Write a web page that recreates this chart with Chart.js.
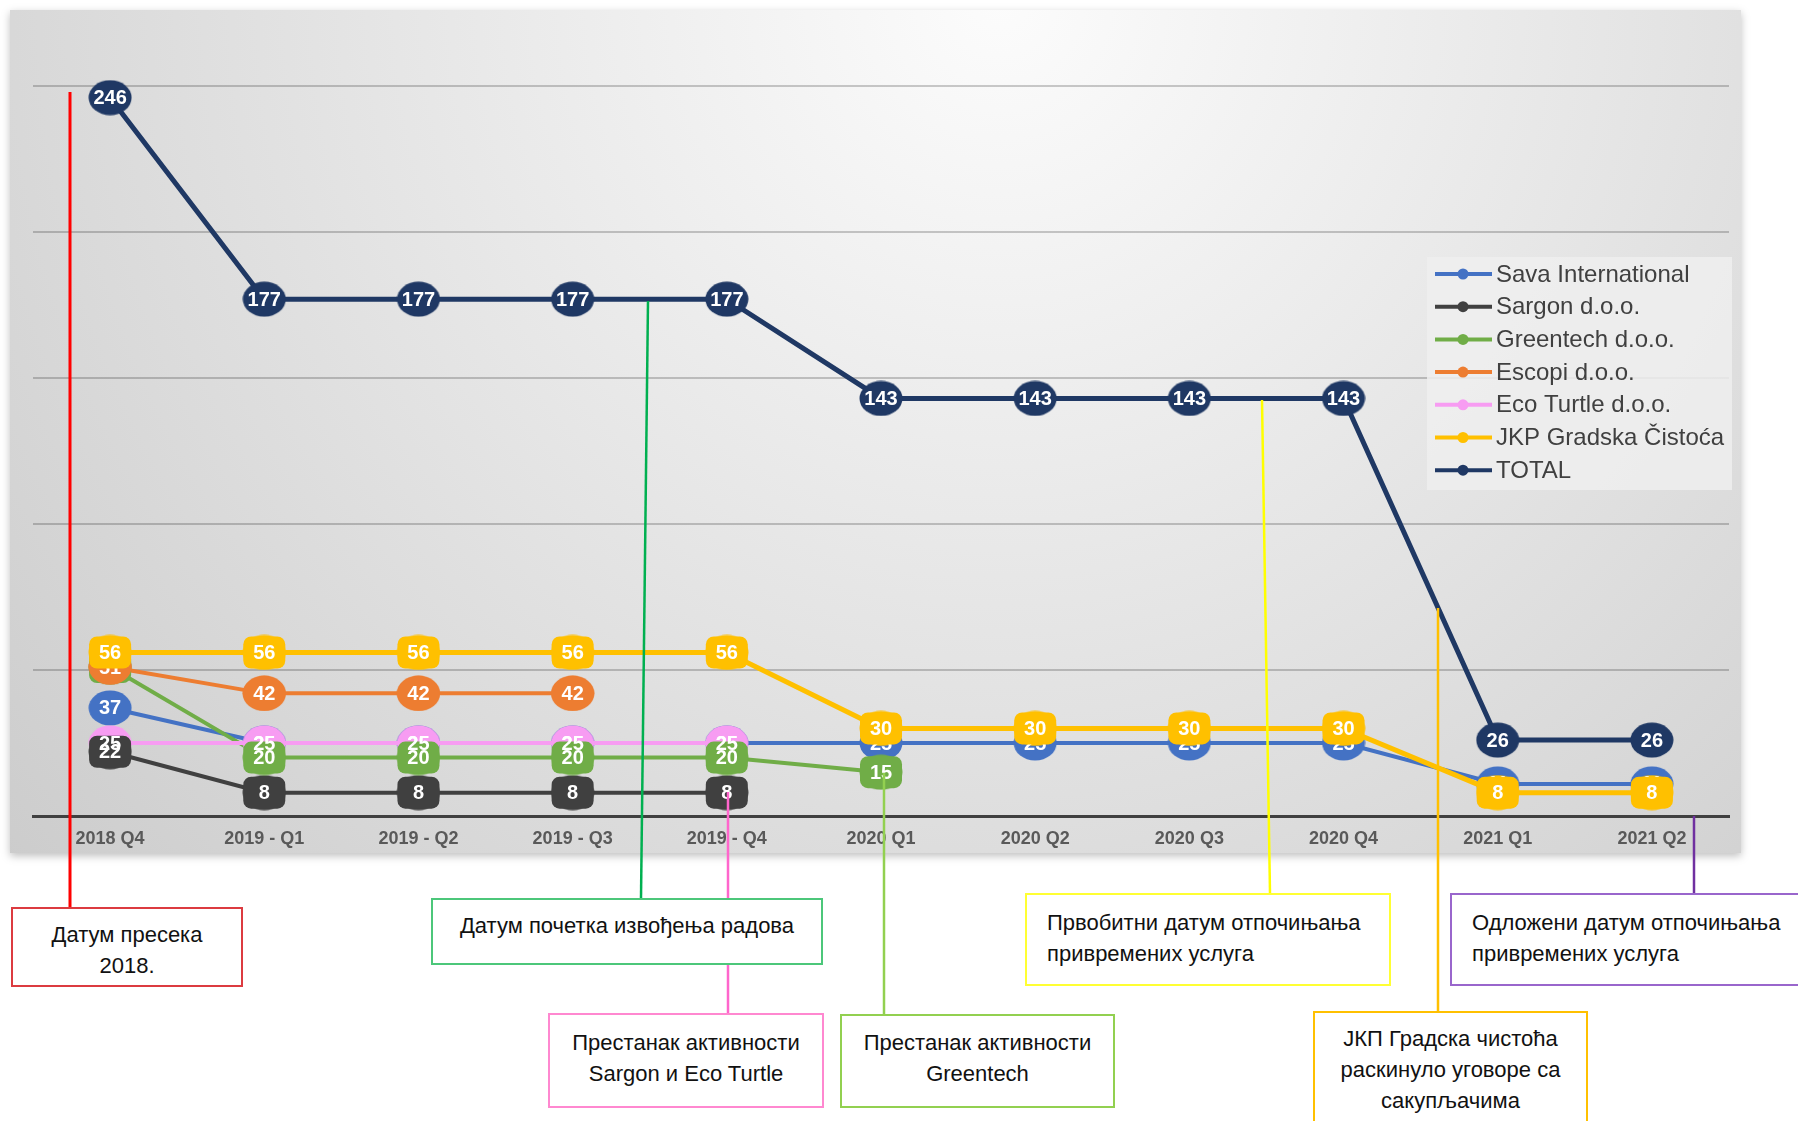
<!DOCTYPE html>
<html lang="sr">
<head>
<meta charset="UTF-8">
<title>Број сакупљача по кварталима</title>
<script src="https://cdn.jsdelivr.net/npm/chart.js"></script>
<style>
  html, body {
    margin: 0;
    padding: 0;
    background: #ffffff;
  }
  .page {
    position: relative;
    width: 1798px;
    height: 1121px;
    overflow: hidden;
    font-family: "Liberation Sans", Arial, sans-serif;
  }
  .chart-wrap {
    position: absolute;
    left: 0;
    top: 0;
    width: 1798px;
    height: 1121px;
  }
  svg.leaders {
    position: absolute;
    left: 0;
    top: 0;
    pointer-events: none;
  }
  .note {
    position: absolute;
    box-sizing: border-box;
    background: #ffffff;
    border: 2px solid #000;
    font-size: 22px;
    line-height: 31px;
    color: #111;
  }
  .note.center { text-align: center; }
</style>
</head>
<body>

<div class="page">
  <div class="chart-wrap">
    <canvas id="collectorsChart"></canvas>
  </div>

  <!-- линије од графика до напомена -->
  <svg class="leaders" width="1798" height="1121">
    <line x1="70" y1="92" x2="70" y2="907" stroke="#ff0000" stroke-width="3"/>
    <line x1="648" y1="301" x2="641" y2="898" stroke="#00b050" stroke-width="2.5"/>
    <line x1="728" y1="792" x2="728" y2="1013" stroke="#ff66cc" stroke-width="2.5"/>
    <line x1="884" y1="773" x2="884" y2="1014" stroke="#92d050" stroke-width="2.5"/>
    <line x1="1262" y1="400" x2="1270" y2="893" stroke="#ffff00" stroke-width="2.5"/>
    <line x1="1438" y1="608" x2="1438" y2="1011" stroke="#ffc000" stroke-width="2.5"/>
    <line x1="1694" y1="816" x2="1694" y2="893" stroke="#7030a0" stroke-width="2.5"/>
  </svg>

  <div class="note center" style="left:11px; top:907px; width:232px; height:80px; padding-top:10px; border-color:#dc3b40;">
    Датум пресека<br>2018.
  </div>
  <div class="note center" style="left:431px; top:898px; width:392px; height:67px; padding-top:10px; border-color:#4cc77a;">
    Датум почетка извођења радова
  </div>
  <div class="note center" style="left:548px; top:1013px; width:276px; height:95px; padding-top:12px; border-color:#ff88d0;">
    Престанак активности<br>Sargon и Eco Turtle
  </div>
  <div class="note center" style="left:840px; top:1014px; width:275px; height:94px; padding-top:11px; border-color:#92d050;">
    Престанак активности<br>Greentech
  </div>
  <div class="note" style="left:1025px; top:893px; width:366px; height:93px; padding:12px 0 0 20px; border-color:#ffff33;">
    Првобитни датум отпочињања<br>привремених услуга
  </div>
  <div class="note" style="left:1450px; top:893px; width:370px; height:93px; padding:12px 0 0 20px; border-color:#9966cc;">
    Одложени датум отпочињања<br>привремених услуга
  </div>
  <div class="note center" style="left:1313px; top:1011px; width:275px; height:130px; padding-top:10px; border-color:#ffc000;">
    ЈКП Градска чистоћа<br>раскинуло уговоре са<br>сакупљачима
  </div>
</div>

<script>
// Квартали
const quarters = ['2018 Q4', '2019 - Q1', '2019 - Q2', '2019 - Q3', '2019 - Q4',
  '2020 Q1', '2020 Q2', '2020 Q3', '2020 Q4', '2021 Q1', '2021 Q2'];

// Вредности по серијама (null = нема активности)
const savaInternational = [37, 25, 25, 25, 25, 25, 25, 25, 25, 11, 11];
const sargon = [22, 8, 8, 8, 8, null, null, null, null, null, null];
const greentech = [51, 20, 20, 20, 20, 15, null, null, null, null, null];
const escopi = [51, 42, 42, 42, null, null, null, null, null, null, null];
const ecoTurtle = [25, 25, 25, 25, 25, null, null, null, null, null, null];
const jkpGradskaCistoca = [56, 56, 56, 56, 56, 30, 30, 30, 30, 8, 8];
const total = [246, 177, 177, 177, 177, 143, 143, 143, 143, 26, 26];

const seriesNames = ['Sava International', 'Sargon d.o.o.', 'Greentech d.o.o.', 'Escopi d.o.o.',
  'Eco Turtle d.o.o.', 'JKP Gradska Čistoća', 'TOTAL'];
const seriesValues = [savaInternational, sargon, greentech, escopi, ecoTurtle, jkpGradskaCistoca, total];
const seriesColors = ['#4472c4', '#404040', '#70ad47', '#ed7d31', '#f79cf2', '#ffc000', '#1f3864'];
// облик позадине етикете: 'rect', 'ellipse' или без позадине
const labelShapes = [null, 'rect', 'rect', 'ellipse', null, 'rect', null];

// елипсасти маркер као у Excel-у
function makeMarker(color) {
  const c = document.createElement('canvas');
  c.width = 44;
  c.height = 36;
  const g = c.getContext('2d');
  g.fillStyle = color;
  g.beginPath();
  g.ellipse(22, 18, 21.5, 17.5, 0, 0, Math.PI * 2);
  g.fill();
  return c;
}

const datasets = seriesNames.map((name, i) => ({
  label: name,
  data: seriesValues[i],
  borderColor: seriesColors[i],
  backgroundColor: seriesColors[i],
  borderWidth: (i === 5 || i === 6) ? 5 : 4,
  pointStyle: makeMarker(seriesColors[i]),
  pointRadius: 18,
  pointHoverRadius: 18,
  tension: 0,
  clip: false,
  order: 6 - i
}));

// позадина са градијентом
const backgroundPlugin = {
  id: 'panelBackground',
  beforeDraw(chart) {
    const ctx = chart.ctx;
    const x = 10, y = 10, w = 1731, h = 843;
    const grad = ctx.createRadialGradient(1000, 0, 0, 1000, 0, 1400);
    grad.addColorStop(0, '#fcfcfc');
    grad.addColorStop(1, '#c9c9c9');
    ctx.save();
    ctx.shadowColor = 'rgba(0,0,0,0.25)';
    ctx.shadowBlur = 8;
    ctx.shadowOffsetY = 3;
    ctx.fillStyle = grad;
    ctx.fillRect(x, y, w, h);
    ctx.restore();
  }
};

// етикете са вредностима унутар маркера
const valueLabels = {
  id: 'valueLabels',
  afterDatasetsDraw(chart) {
    const ctx = chart.ctx;
    ctx.save();
    ctx.font = 'bold 20px "Liberation Sans", Arial, sans-serif';
    ctx.textAlign = 'center';
    ctx.textBaseline = 'middle';
    chart.data.datasets.forEach((ds, i) => {
      const meta = chart.getDatasetMeta(i);
      meta.data.forEach((pt, j) => {
        const v = ds.data[j];
        if (v === null || v === undefined) return;
        if (labelShapes[i]) {
          ctx.fillStyle = seriesColors[i];
          ctx.beginPath();
          if (labelShapes[i] === 'rect') {
            ctx.roundRect(pt.x - 21, pt.y - 16, 42, 32, 8);
          } else {
            ctx.ellipse(pt.x, pt.y, 21.5, 17.5, 0, 0, Math.PI * 2);
          }
          ctx.fill();
        }
        ctx.fillStyle = '#ffffff';
        ctx.fillText(String(v), pt.x, pt.y + 1);
      });
    });
    ctx.restore();
  }
};

// легенда десно, унутар површине графика
const sideLegend = {
  id: 'sideLegend',
  afterDraw(chart) {
    const ctx = chart.ctx;
    const left = 1427, top = 257;
    ctx.save();
    ctx.fillStyle = 'rgba(238,238,238,0.85)';
    ctx.fillRect(left, top, 305, 233);
    ctx.font = '24px "Liberation Sans", Arial, sans-serif';
    ctx.textBaseline = 'middle';
    seriesNames.forEach((name, i) => {
      const y = 274 + i * 32.7;
      ctx.strokeStyle = seriesColors[i];
      ctx.lineWidth = 4;
      ctx.beginPath();
      ctx.moveTo(1435, y);
      ctx.lineTo(1492, y);
      ctx.stroke();
      ctx.fillStyle = seriesColors[i];
      ctx.beginPath();
      ctx.arc(1463, y, 5.5, 0, Math.PI * 2);
      ctx.fill();
      ctx.fillStyle = '#404040';
      ctx.fillText(name, 1496, y + 1);
    });
    ctx.restore();
  }
};

new Chart(document.getElementById('collectorsChart'), {
  type: 'line',
  data: {
    labels: quarters,
    datasets: datasets
  },
  options: {
    responsive: true,
    maintainAspectRatio: false,
    animation: false,
    events: [],
    layout: {
      padding: { left: 33, right: 69, top: 86, bottom: 271 }
    },
    plugins: {
      legend: { display: false },
      tooltip: { enabled: false }
    },
    scales: {
      x: {
        offset: true,
        grid: { display: false, drawTicks: false },
        border: { display: true, color: '#404040', width: 3 },
        ticks: {
          padding: 12,
          color: '#595959',
          font: { family: '"Liberation Sans", Arial, sans-serif', size: 18, weight: 'bold' },
          maxRotation: 0,
          autoSkip: false
        },
        afterFit(scale) { scale.height = 34; }
      },
      y: {
        min: 0,
        max: 250,
        ticks: { display: false, stepSize: 50 },
        border: { display: false },
        grid: {
          drawTicks: false,
          lineWidth: 2,
          color: c => c.tick.value === 0 ? 'rgba(0,0,0,0)' : 'rgba(0,0,0,0.2)'
        },
        afterFit(scale) { scale.width = 0; }
      }
    }
  },
  plugins: [backgroundPlugin, valueLabels, sideLegend]
});
</script>

</body>
</html>
